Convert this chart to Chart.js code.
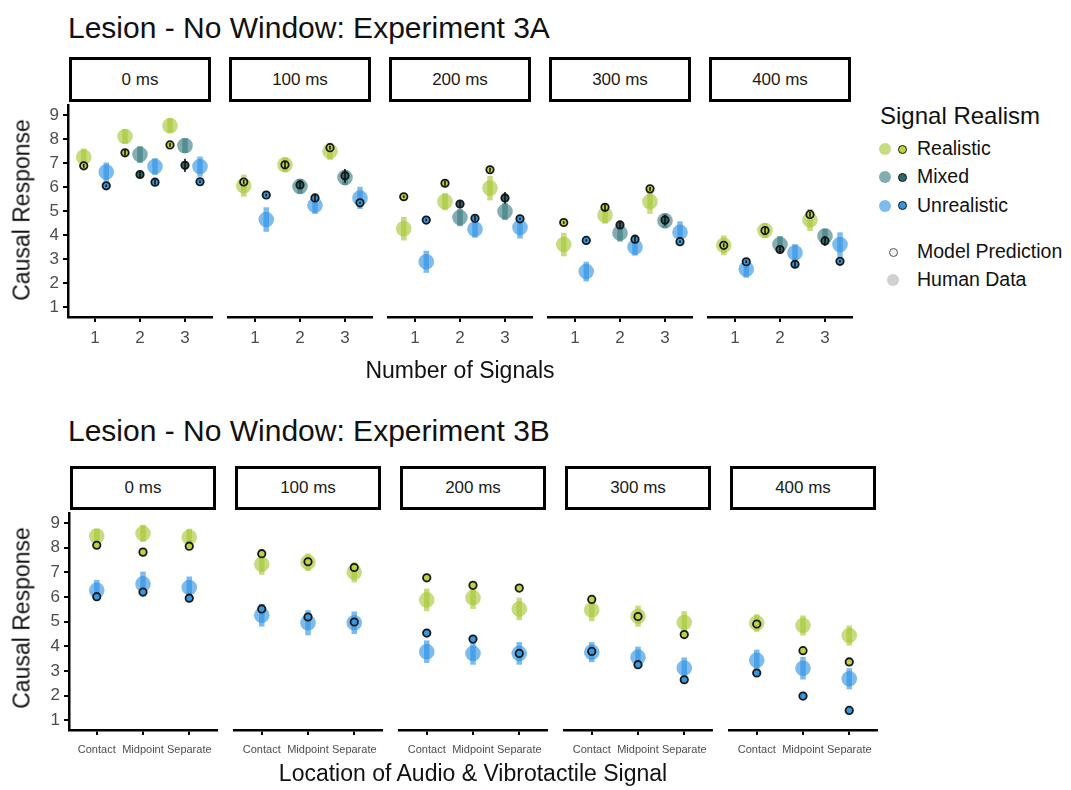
<!DOCTYPE html>
<html>
<head>
<meta charset="utf-8">
<script src="https://cdn.jsdelivr.net/npm/chart.js@4.4.1/dist/chart.umd.min.js"></script>
<style>
  body { margin: 0; background: #fff; width: 1071px; height: 790px; position: relative; overflow: hidden;
         font-family: "Liberation Sans", Arial, Helvetica, sans-serif; }
  .txt { position: absolute; white-space: nowrap; color: #111; line-height: 1; }
  .title { font-size: 30px; }
  .axt { font-size: 23px; }
  .strip { position: absolute; box-sizing: border-box; border: 3px solid #000; background: #fff;
           display: flex; align-items: center; justify-content: center; font-size: 17px; color: #1a1a1a; }
  .dot { position: absolute; border-radius: 50%; box-sizing: border-box; }
  .leg { font-size: 19.5px; }
  canvas { position: absolute; }
</style>
</head>
<body>
<script>
// ---- data ---------------------------------------------------------------
const delays = ['0 ms', '100 ms', '200 ms', '300 ms', '400 ms'];
const signalCounts = [1, 2, 3];
const locations = ['Contact', 'Midpoint', 'Separate'];
const yTicks = [1, 2, 3, 4, 5, 6, 7, 8, 9];

// Experiment 3A: one row per delay, one value per number of signals (null = no mixed trial with 1 signal)
const humanRealistic3A    = [[7.25, 8.10, 8.55], [5.95, 6.80, 7.35], [4.20, 5.30, 5.85], [3.55, 4.75, 5.30], [3.52, 4.12, 4.55]];
const humanMixed3A        = [[null, 7.35, 7.72], [null, 5.92, 6.28], [null, 4.65, 4.90], [null, 4.02, 4.52], [null, 3.55, 3.90]];
const humanUnrealistic3A  = [[6.62, 6.85, 6.85], [4.57, 5.15, 5.45], [2.85, 4.18, 4.25], [2.45, 3.45, 4.05], [2.55, 3.22, 3.55]];
const errRealistic3A      = [[0.35, 0.30, 0.30], [0.45, 0.30, 0.35], [0.48, 0.35, 0.50], [0.48, 0.35, 0.50], [0.40, 0.30, 0.45]];
const errMixed3A          = [[null, 0.35, 0.30], [null, 0.30, 0.30], [null, 0.35, 0.35], [null, 0.35, 0.30], [null, 0.35, 0.30]];
const errUnrealistic3A    = [[0.40, 0.35, 0.42], [0.50, 0.35, 0.45], [0.45, 0.35, 0.45], [0.40, 0.35, 0.45], [0.35, 0.35, 0.50]];
const modelRealistic3A    = [[6.88, 7.42, 7.75], [6.10, 6.80, 7.50], [5.50, 6.05, 6.60], [4.45, 5.07, 5.82], [3.52, 4.12, 4.78]];
const modelMixed3A        = [[null, 6.52, 6.90], [null, 5.98, 6.35], [null, 5.20, 5.45], [null, 4.35, 4.55], [null, 3.35, 3.70]];
const modelUnrealistic3A  = [[6.05, 6.20, 6.22], [5.57, 5.45, 5.25], [4.55, 4.62, 4.60], [3.72, 3.77, 3.67], [2.85, 2.75, 2.87]];
const modelErrRealistic3A   = [[0.08, 0.12, 0.08], [0.08, 0.15, 0.08], [0.05, 0.10, 0.08], [0.05, 0.12, 0.08], [0.08, 0.14, 0.10]];
const modelErrMixed3A       = [[null, 0.12, 0.28], [null, 0.12, 0.28], [null, 0.12, 0.24], [null, 0.12, 0.22], [null, 0.10, 0.20]];
const modelErrUnrealistic3A = [[0.05, 0.10, 0.05], [0.05, 0.14, 0.05], [0.05, 0.10, 0.05], [0.05, 0.12, 0.05], [0.05, 0.12, 0.05]];

// Experiment 3B: one row per delay, one value per signal location
const humanRealistic3B    = [[8.47, 8.58, 8.42], [7.20, 7.28, 6.88], [5.78, 5.87, 5.42], [5.38, 5.13, 4.88], [4.86, 4.76, 4.36]];
const humanUnrealistic3B  = [[6.27, 6.53, 6.38], [5.17, 4.87, 4.87], [3.72, 3.65, 3.65], [3.70, 3.50, 3.07], [3.38, 3.06, 2.64]];
const errRealistic3B      = [[0.30, 0.35, 0.35], [0.42, 0.35, 0.40], [0.45, 0.45, 0.45], [0.45, 0.42, 0.45], [0.35, 0.40, 0.40]];
const errUnrealistic3B    = [[0.42, 0.50, 0.45], [0.45, 0.50, 0.45], [0.45, 0.45, 0.45], [0.40, 0.42, 0.42], [0.42, 0.45, 0.42]];
const modelRealistic3B    = [[8.10, 7.82, 8.06], [7.62, 7.30, 7.07], [6.66, 6.36, 6.25], [5.80, 5.12, 4.40], [4.82, 3.76, 3.31]];
const modelUnrealistic3B  = [[6.01, 6.20, 5.95], [5.42, 5.10, 4.90], [4.46, 4.22, 3.65], [3.73, 3.20, 2.60], [2.87, 1.95, 1.38]];

// ---- styling --------------------------------------------------------------
const STYLE = {
  Realistic:   { human: 'rgba(165,199,50,0.62)',  model: '#bdd33c' },
  Mixed:       { human: 'rgba(55,122,128,0.62)',  model: '#2e686d' },
  Unrealistic: { human: 'rgba(45,146,228,0.62)',  model: '#3798df' }
};
const FONT = '"Liberation Sans", Arial, Helvetica, sans-serif';
const AX_W = 40, AX_H = 44, PAD = 10;

// vertical error bars drawn from each dataset's own err list
const errorBars = {
  id: 'errorBars',
  afterDatasetDraw(chart, args) {
    const ds = chart.data.datasets[args.index];
    if (!ds.err) return;
    const ctx = chart.ctx, xs = chart.scales.x, ys = chart.scales.y;
    ctx.save();
    ctx.strokeStyle = ds.errColor;
    ctx.lineWidth = ds.errWidth;
    ctx.lineCap = 'butt';
    ds.data.forEach((p, i) => {
      const e = ds.err[i];
      if (!e) return;
      const px = xs.getPixelForValue(p.x);
      ctx.beginPath();
      ctx.moveTo(px, ys.getPixelForValue(p.y - e));
      ctx.lineTo(px, ys.getPixelForValue(p.y + e));
      ctx.stroke();
    });
    ctx.restore();
  }
};

// groups: [{name, human, humanErr, model, modelErr}] with one value per x category
function buildDatasets(groups, dodge) {
  const out = { human: {}, model: {} };
  groups.forEach(g => {
    out.human[g.name] = { data: [], err: [] };
    out.model[g.name] = { data: [], err: [] };
  });
  for (let j = 0; j < 3; j++) {
    const present = groups.filter(g => g.human[j] != null);
    const n = present.length;
    present.forEach((g, k) => {
      const x = (j + 1) + (dodge ? (k - (n - 1) / 2) / n : 0);
      out.human[g.name].data.push({ x, y: g.human[j] });
      out.human[g.name].err.push(g.humanErr[j]);
      out.model[g.name].data.push({ x, y: g.model[j] });
      out.model[g.name].err.push(g.modelErr[j]);
    });
  }
  const ds = [];
  let order = 10;
  groups.forEach(g => {
    const st = STYLE[g.name];
    ds.push({
      label: g.name + ' human', data: out.human[g.name].data, err: out.human[g.name].err,
      errColor: st.human, errWidth: 5.5, order: order--,
      backgroundColor: st.human, borderWidth: 0, pointRadius: 7.8, pointHoverRadius: 7.8, clip: false
    });
  });
  groups.forEach(g => {
    const st = STYLE[g.name];
    ds.push({
      label: g.name + ' model', data: out.model[g.name].data, err: out.model[g.name].err,
      errColor: '#111', errWidth: 1.6, order: order--,
      backgroundColor: st.model, borderColor: '#161616', borderWidth: 1.8,
      pointRadius: 3.7, pointHoverRadius: 3.7, clip: false
    });
  });
  return ds;
}

function makePanel(p) {
  const cv = document.createElement('canvas');
  const w = AX_W + p.width + PAD, h = PAD + p.height + AX_H;
  cv.width = w; cv.height = h;
  cv.style.left = (p.left - AX_W) + 'px';
  cv.style.top = (p.top - PAD) + 'px';
  cv.style.width = w + 'px'; cv.style.height = h + 'px';
  document.body.appendChild(cv);

  const tickGrid = { display: true, drawOnChartArea: false, drawTicks: true, tickLength: 5,
                     color: '#000', tickColor: '#000', lineWidth: 2 };
  const hiddenGrid = { display: false, drawTicks: false };
  new Chart(cv, {
    type: 'scatter',
    data: { datasets: p.datasets },
    plugins: [errorBars],
    options: {
      responsive: false, animation: false, devicePixelRatio: 1,
      events: [],
      layout: { padding: { left: 0, right: PAD, top: PAD, bottom: 0 } },
      plugins: { legend: { display: false }, tooltip: { enabled: false } },
      scales: {
        x: {
          type: 'linear', min: 0.4, max: 3.6,
          afterBuildTicks: s => { s.ticks = [1, 2, 3].map(v => ({ value: v })); },
          afterFit: s => { s.height = AX_H; s.paddingLeft = 0; s.paddingRight = 0; },
          ticks: { callback: (v, i) => p.xLabels[i], autoSkip: false, maxRotation: 0,
                   color: '#4d4d4d', padding: p.xPad, font: { family: FONT, size: p.xFont } },
          grid: tickGrid,
          border: { display: true, color: '#000', width: 2.5 }
        },
        y: {
          min: 0.6, max: 9.4,
          afterBuildTicks: s => { s.ticks = yTicks.map(v => ({ value: v })); },
          afterFit: s => { s.width = AX_W; },
          ticks: { display: p.showY, callback: (v, i) => String(yTicks[i]), autoSkip: false,
                   color: '#4d4d4d', padding: 4, font: { family: FONT, size: 17 } },
          grid: p.showY ? tickGrid : hiddenGrid,
          border: { display: p.showY, color: '#000', width: 2.5 }
        }
      }
    }
  });
}

function addText(cls, text, style) {
  const d = document.createElement('div');
  d.className = 'txt ' + cls;
  d.textContent = text;
  Object.assign(d.style, style);
  document.body.appendChild(d);
  return d;
}
function addStrip(text, left, top, width, height) {
  const d = document.createElement('div');
  d.className = 'strip';
  d.textContent = text;
  Object.assign(d.style, { left: left + 'px', top: top + 'px', width: width + 'px', height: height + 'px' });
  document.body.appendChild(d);
}
function addDot(cx, cy, r, fill, border) {
  const d = document.createElement('div');
  d.className = 'dot';
  Object.assign(d.style, { left: (cx - r) + 'px', top: (cy - r) + 'px', width: 2 * r + 'px', height: 2 * r + 'px',
                           background: fill, border: border || 'none' });
  document.body.appendChild(d);
}

// ---- Experiment 3A row ------------------------------------------------------
addText('title', 'Lesion - No Window: Experiment 3A', { left: '68px', top: '13px' });
delays.forEach((d, i) => {
  const left = 68 + 160 * i, width = 144;
  addStrip(d, left + 1, 57, width - 2, 45);
  makePanel({
    left, top: 101, width, height: 216, showY: i === 0,
    xLabels: signalCounts.map(String), xFont: 17, xPad: 6,
    datasets: buildDatasets([
      { name: 'Realistic',   human: humanRealistic3A[i],   humanErr: errRealistic3A[i],   model: modelRealistic3A[i],   modelErr: modelErrRealistic3A[i] },
      { name: 'Mixed',       human: humanMixed3A[i],       humanErr: errMixed3A[i],       model: modelMixed3A[i],       modelErr: modelErrMixed3A[i] },
      { name: 'Unrealistic', human: humanUnrealistic3A[i], humanErr: errUnrealistic3A[i], model: modelUnrealistic3A[i], modelErr: modelErrUnrealistic3A[i] }
    ], true)
  });
});
const yt1 = addText('axt', 'Causal Response', { left: '22px', top: '210px' });
yt1.style.transform = 'translate(-50%,-50%) rotate(-90deg)';
const xt1 = addText('axt', 'Number of Signals', { left: '460px', top: '370px' });
xt1.style.transform = 'translate(-50%,-50%)';

// ---- Experiment 3B row ------------------------------------------------------
addText('title', 'Lesion - No Window: Experiment 3B', { left: '68px', top: '416px' });
const zeros = [0, 0, 0];
delays.forEach((d, i) => {
  const left = 69 + 165 * i, width = 148;
  addStrip(d, left + 1, 466, width - 2, 44);
  makePanel({
    left, top: 509, width, height: 221, showY: i === 0,
    xLabels: locations, xFont: 11, xPad: 8,
    datasets: buildDatasets([
      { name: 'Realistic',   human: humanRealistic3B[i],   humanErr: errRealistic3B[i],   model: modelRealistic3B[i],   modelErr: zeros },
      { name: 'Unrealistic', human: humanUnrealistic3B[i], humanErr: errUnrealistic3B[i], model: modelUnrealistic3B[i], modelErr: zeros }
    ], false)
  });
});
const yt2 = addText('axt', 'Causal Response', { left: '22px', top: '618px' });
yt2.style.transform = 'translate(-50%,-50%) rotate(-90deg)';
const xt2 = addText('axt', 'Location of Audio & Vibrotactile Signal', { left: '473px', top: '773px' });
xt2.style.transform = 'translate(-50%,-50%)';

// ---- legend -----------------------------------------------------------------
addText('axt', 'Signal Realism', { left: '880px', top: '104px', fontSize: '24px' });
[['Realistic', 149], ['Mixed', 177], ['Unrealistic', 205.5]].forEach(([name, y]) => {
  addDot(885, y, 6, STYLE[name].human);
  addDot(902, y, 4.5, STYLE[name].model, '1.6px solid #161616');
  addText('leg', name, { left: '917px', top: (y - 10) + 'px' });
});
addDot(893, 252, 4.5, '#f2f2f2', '1.6px solid #555');
addText('leg', 'Model Prediction', { left: '917px', top: '242px' });
addDot(893, 280, 6, '#d0d0d0');
addText('leg', 'Human Data', { left: '917px', top: '270px' });
</script>
</body>
</html>
